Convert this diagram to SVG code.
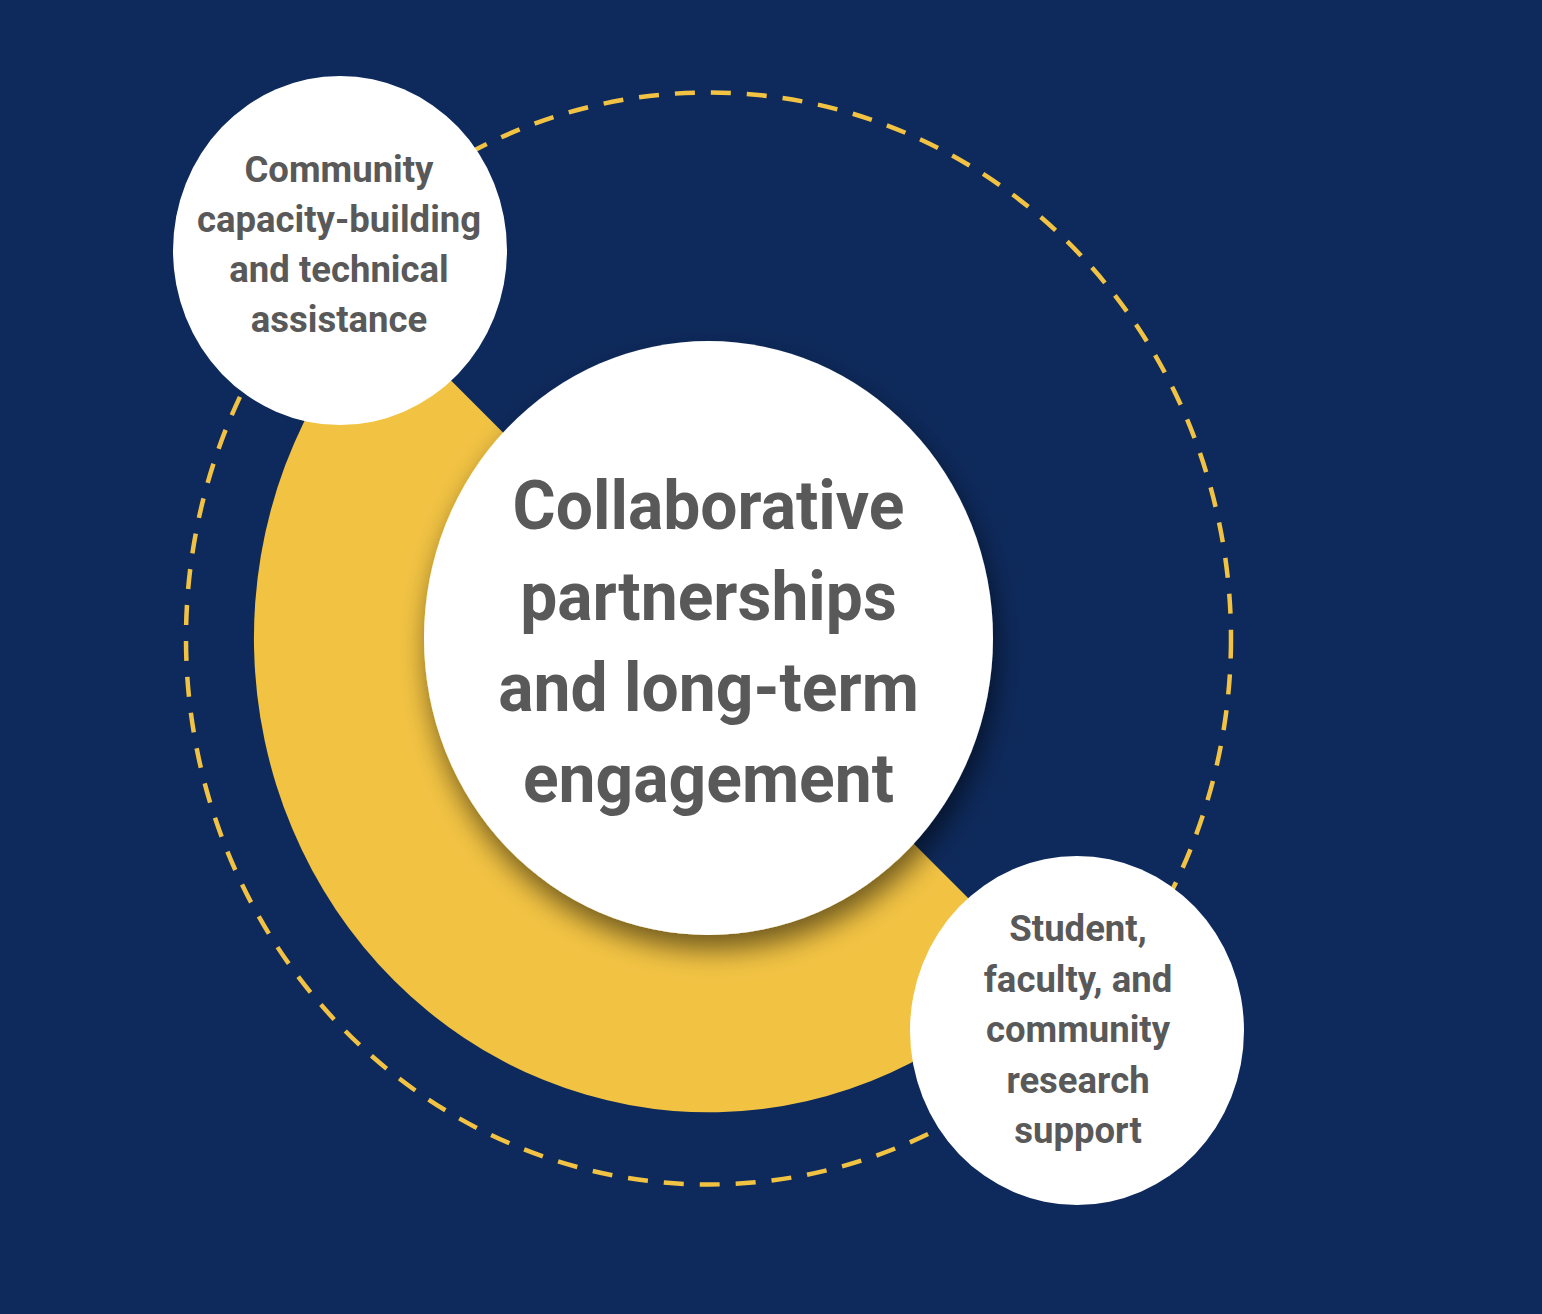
<svg xmlns="http://www.w3.org/2000/svg" width="1542" height="1314" viewBox="0 0 1542 1314">
  <defs>
    <filter id="shadow" x="-20%" y="-20%" width="140%" height="140%">
      <feDropShadow dx="4" dy="14" stdDeviation="14" flood-color="#000" flood-opacity="0.55"/>
    </filter>
    <style>
      .bg { fill: #0E2A5C; }
      .node { fill: #FFFFFF; }
      .ring { fill: #F2C343; }
      .orbit { fill: none; stroke: #F2C343; stroke-width: 4.5; stroke-dasharray: 20 16; }
      .t { font-family: Roboto, "Liberation Sans", sans-serif; font-weight: 700; fill: #595959; text-anchor: middle; }
      .big { font-size: 66px; }
      .small { font-size: 36.5px; }
    </style>
  </defs>
  <rect class="bg" x="0" y="0" width="1542" height="1314"/>
  <g id="connectors">
    <ellipse class="orbit" cx="708.5" cy="638.5" rx="522.5" ry="546"/>
    <path class="ring" d="M 380.44 309.94 A 454.5 474 0 0 0 1036.56 966.56 Z"/>
  </g>
  <g id="node-center">
    <ellipse class="node" cx="708.5" cy="638" rx="284.5" ry="297" filter="url(#shadow)"/>
    <g transform="translate(708.5,0) scale(1,1.045)">
      <text class="t big" x="0" y="506">Collaborative</text>
      <text class="t big" x="0" y="593">partnerships</text>
      <text class="t big" x="0" y="680">and long-term</text>
      <text class="t big" x="0" y="767">engagement</text>
    </g>
  </g>
  <g id="node-capacity">
    <ellipse class="node" cx="340" cy="250.5" rx="167" ry="174.5"/>
    <text class="t small" x="339" y="182">Community</text>
    <text class="t small" x="339" y="232">capacity-building</text>
    <text class="t small" x="339" y="282">and technical</text>
    <text class="t small" x="339" y="332">assistance</text>
  </g>
  <g id="node-research">
    <ellipse class="node" cx="1077" cy="1030.5" rx="167" ry="174.5"/>
    <text class="t small" x="1078" y="941">Student,</text>
    <text class="t small" x="1078" y="991.5">faculty, and</text>
    <text class="t small" x="1078" y="1042">community</text>
    <text class="t small" x="1078" y="1092.5">research</text>
    <text class="t small" x="1078" y="1143">support</text>
  </g>
</svg>
